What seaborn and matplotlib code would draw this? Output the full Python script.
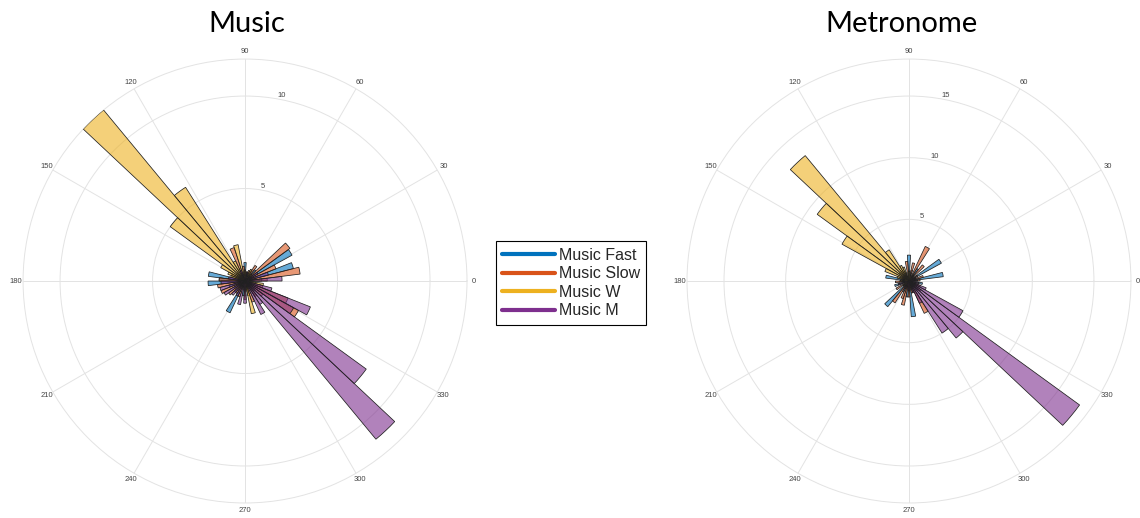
import matplotlib
matplotlib.use("Agg")
import matplotlib.pyplot as plt
from matplotlib.colors import to_rgba
from matplotlib.lines import Line2D
import seaborn as sns
import numpy as np

# bin centres (deg) and heights, 50 bins of 7.2 deg
series_names = ["Music Fast", "Music Slow", "Music W", "Music M"]
series_colors = ["#0072BD", "#D95319", "#EDB120", "#7E2F8E"]
bin_width_deg = 7.2

# --- Music panel ---
music_fast_deg = [3.6, 18.0, 32.4, 46.8, 61.2, 75.6, 90.0, 118.8, 140.4, 155.0, 169.2, 176.4, 183.6, 198.0, 212.4, 226.8, 241.2, 262.8, 284.4, 306.0, 334.8, 349.2]
music_fast_val = [0.8, 2.7, 2.9, 0.8, 0.6, 0.5, 1.0, 0.7, 0.6, 0.6, 2.0, 1.4, 2.0, 0.9, 0.7, 0.8, 1.9, 0.8, 0.6, 0.9, 0.7, 0.6]
music_slow_deg = [3.6, 10.8, 25.2, 39.6, 54.0, 68.4, 82.8, 97.2, 111.6, 133.2, 154.8, 176.4, 190.8, 205.2, 219.6, 234.0, 248.4, 270.0, 284.4, 291.6, 306.0, 320.4, 327.6, 334.8, 342.0]
music_slow_val = [1.2, 3.0, 1.8, 3.0, 1.0, 0.6, 0.5, 0.8, 1.9, 0.6, 0.8, 1.4, 1.5, 1.4, 1.1, 0.8, 0.9, 1.0, 0.8, 1.2, 1.0, 1.2, 3.3, 2.5, 1.0]
music_w_deg = [3.6, 18.0, 46.8, 61.2, 90.0, 104.4, 118.8, 126.0, 133.2, 140.4, 147.6, 154.8, 162.0, 198.0, 241.2, 270.0, 284.4, 313.2, 349.2]
music_w_val = [0.9, 0.6, 0.5, 0.7, 0.6, 2.0, 1.2, 6.0, 12.0, 5.0, 1.5, 1.0, 0.8, 0.6, 0.7, 0.8, 1.8, 0.7, 1.0]
music_m_deg = [3.6, 18.0, 32.4, 75.6, 111.6, 169.2, 183.6, 198.0, 212.4, 226.8, 241.2, 255.6, 270.0, 298.8, 306.0, 313.2, 320.4, 327.6, 334.8, 342.0]
music_m_val = [2.0, 1.3, 0.8, 0.5, 0.6, 0.9, 1.3, 1.4, 1.3, 1.0, 0.9, 1.3, 1.2, 2.0, 1.5, 11.1, 8.1, 3.0, 3.8, 1.5]

# --- Metronome panel ---
metro_fast_deg = [10.8, 32.4, 54.0, 75.6, 90.0, 111.6, 140.4, 169.2, 183.6, 198.0, 226.8, 241.2, 262.8, 277.2, 291.6, 313.2, 334.8, 349.2]
metro_fast_val = [2.8, 3.0, 1.2, 0.9, 2.1, 0.8, 1.0, 1.9, 0.8, 1.2, 2.7, 1.0, 1.3, 2.9, 0.9, 1.0, 0.8, 1.1]
metro_slow_deg = [3.6, 18.0, 32.4, 46.8, 61.2, 75.6, 97.2, 126.0, 162.0, 183.6, 212.4, 234.0, 248.4, 255.6, 270.0, 284.4, 298.8, 320.4, 334.8]
metro_slow_val = [0.9, 1.2, 0.8, 1.7, 3.1, 1.5, 1.6, 1.0, 0.7, 1.1, 1.2, 2.1, 1.5, 2.0, 1.3, 1.0, 2.9, 1.2, 1.0]
metro_w_deg = [54.0, 90.0, 111.6, 118.8, 126.0, 133.2, 140.4, 147.6, 154.8, 162.0, 176.4, 219.6, 291.6]
metro_w_val = [0.6, 0.8, 1.2, 1.4, 3.0, 13.2, 9.2, 6.2, 2.1, 1.0, 0.7, 0.6, 0.8]
metro_m_deg = [3.6, 25.2, 198.0, 241.2, 270.0, 291.6, 298.8, 306.0, 313.2, 320.4, 327.6, 334.8, 349.2]
metro_m_val = [0.7, 0.6, 0.9, 0.7, 0.8, 1.0, 2.0, 5.0, 6.0, 17.1, 5.0, 1.5, 0.8]

music_rmax = 12
metro_rmax = 18
music_rticks = [5, 10]
metro_rticks = [5, 10, 15]
theta_ticks = list(range(0, 360, 30))

sns.set_theme(style="white")
plt.rcParams["font.family"] = ["Liberation Sans", "DejaVu Sans"]
palette = sns.color_palette(series_colors)


def polar_hist(ax, data, rmax, rticks):
    for (deg, val), col in zip(data, palette):
        ax.bar(np.deg2rad(deg), val, width=np.deg2rad(bin_width_deg),
               facecolor=to_rgba(col, 0.6), edgecolor="#202020",
               linewidth=0.55, zorder=3)
    ax.set_ylim(0, rmax)
    ax.set_yticks(rticks)
    ax.set_yticklabels([str(t) for t in rticks], fontsize=5.5, color="#444444")
    ax.set_rlabel_position(80)
    ax.set_xticks(np.deg2rad(theta_ticks))
    ax.set_xticklabels([])
    # angle labels just outside the rim
    for t in theta_ticks:
        ax.text(np.deg2rad(t), rmax * 1.032, str(t), fontsize=5.5,
                color="#444444", ha="center", va="center", clip_on=False)
    ax.grid(True, color="#e3e3e3", linewidth=0.7)
    ax.spines["polar"].set_color("#e3e3e3")
    ax.spines["polar"].set_linewidth(0.7)
    ax.set_facecolor("white")


fig = plt.figure(figsize=(11.4, 5.18), dpi=100)
ax1 = fig.add_axes([0.0202, 0.029, 0.3895, 0.857], projection="polar")
ax2 = fig.add_axes([0.6026, 0.029, 0.3895, 0.857], projection="polar")

polar_hist(ax1, [(music_fast_deg, music_fast_val), (music_slow_deg, music_slow_val),
                 (music_w_deg, music_w_val), (music_m_deg, music_m_val)],
           music_rmax, music_rticks)
polar_hist(ax2, [(metro_fast_deg, metro_fast_val), (metro_slow_deg, metro_slow_val),
                 (metro_w_deg, metro_w_val), (metro_m_deg, metro_m_val)],
           metro_rmax, metro_rticks)

fig.text(247 / 1140, 1 - 24 / 518, "Music", fontsize=21, family="Lato",
         ha="center", va="center", color="black")
fig.text(902 / 1140, 1 - 24 / 518, "Metronome", fontsize=21, family="Lato",
         ha="center", va="center", color="black")

handles = [Line2D([0], [0], color=c, linewidth=3) for c in series_colors]
leg = fig.legend(handles, series_names, loc="center",
                 bbox_to_anchor=(571 / 1140, 1 - 283 / 518),
                 fontsize=11.5, handlelength=3.3, handletextpad=0.25,
                 labelspacing=0.22, borderpad=0.4, fancybox=False,
                 framealpha=1, edgecolor="black")
leg.get_frame().set_linewidth(0.8)

fig.savefig("out.png", dpi=100, facecolor="white")
